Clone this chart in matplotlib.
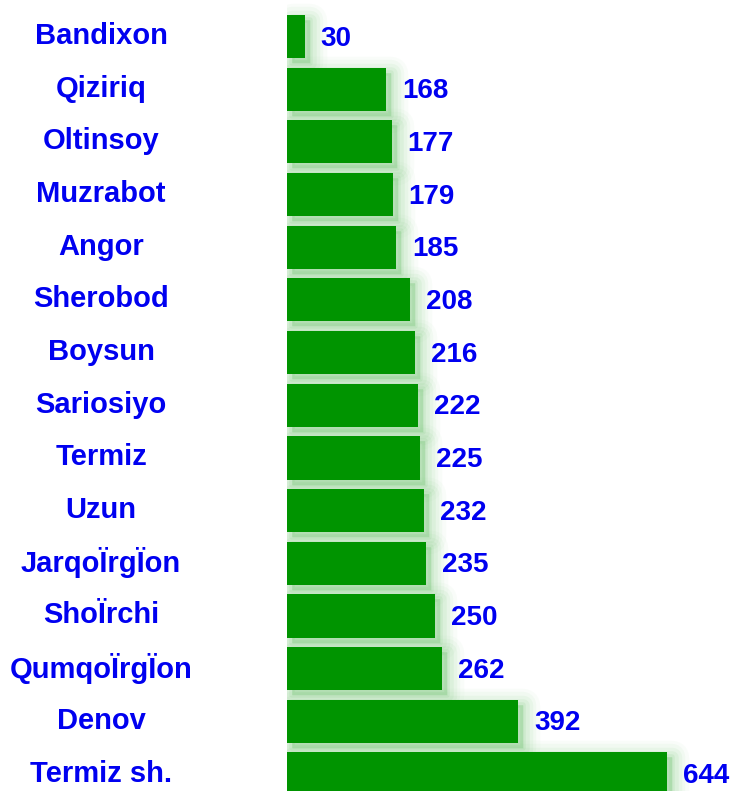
import numpy as np
import matplotlib.pyplot as plt
from matplotlib.transforms import ScaledTranslation, blended_transform_factory

plt.rcParams['font.family'] = ['Liberation Sans', 'DejaVu Sans']

districts = ['Bandixon', 'Qiziriq', 'Oltinsoy', 'Muzrabot', 'Angor', 'Sherobod',
             'Boysun', 'Sariosiyo', 'Termiz', 'Uzun', 'JarqoÏrgÏon', 'ShoÏrchi',
             'QumqoÏrgÏon', 'Denov', 'Termiz sh.']
values = [30, 168, 177, 179, 185, 208, 216, 222, 225, 232, 235, 250, 262, 392, 644]

bar_color = '#009400'
glow_color = '#6cc46c'
text_color = '#0000f0'

fig = plt.figure(figsize=(7.31, 7.91), dpi=100)
ax = fig.add_axes([287 / 731, 0, 1 - 287 / 731, 1])

pos = np.arange(len(values))

# soft green glow behind bars, shifted down-right
shift = ax.transData + ScaledTranslation(5 / 100, -5 / 100, fig.dpi_scale_trans)
for lw, al in [(24, 0.035), (19, 0.05), (14, 0.07), (9, 0.09), (4, 0.12)]:
    glow = ax.barh(pos, values, height=0.82, color=glow_color, edgecolor=glow_color,
                   linewidth=lw, alpha=al, zorder=1)
    for p in glow:
        p.set_transform(shift)
        p.set_joinstyle('round')

ax.barh(pos, values, height=0.82, color=bar_color, zorder=2)

# value labels right of the bars
for i, v in enumerate(values):
    ax.annotate(str(v), (v, i), xytext=(11.5, -1.5), textcoords='offset points',
                ha='left', va='center', fontsize=20, fontweight='bold', color=text_color)

# category labels centered in left margin
lab_tr = blended_transform_factory(fig.transFigure, ax.transData) \
    + ScaledTranslation(0, 0.5 / 100, fig.dpi_scale_trans)
for i, name in enumerate(districts):
    ax.text(101 / 731, i, name, transform=lab_tr, ha='center', va='center',
            fontsize=21, fontweight='bold', color=text_color, clip_on=False)

ax.set_xlim(0, 752)
ax.set_ylim(14 + 17 / 52.7, -36.5 / 52.7)
ax.axis('off')

fig.savefig('out.png', dpi=100)
